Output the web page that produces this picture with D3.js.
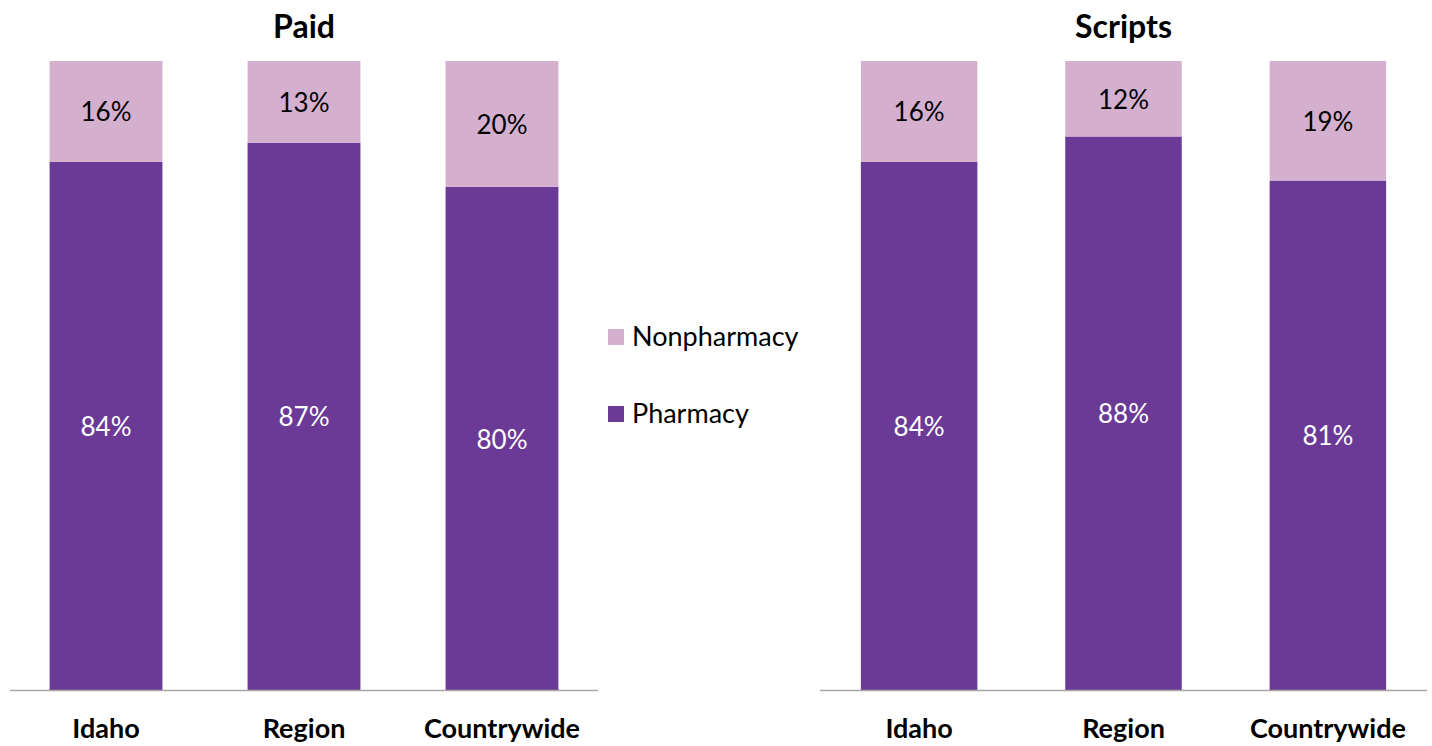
<!DOCTYPE html>
<html>
<head>
<meta charset="utf-8">
<script src="https://cdn.jsdelivr.net/npm/d3@7"></script>
<style>
  body { margin: 0; background: #fff; }
  svg { display: block; font-family: Lato, "Open Sans", sans-serif; }
</style>
</head>
<body>
<svg id="chart"></svg>
<script>
const WIDTH = 1432;
const HEIGHT = 746;

const categories = ['Idaho', 'Region', 'Countrywide'];
const seriesNames = ['Pharmacy', 'Nonpharmacy'];
const paidPharmacy = [84, 87, 80];
const paidNonpharmacy = [16, 13, 20];
const scriptsPharmacy = [84, 88, 81];
const scriptsNonpharmacy = [16, 12, 19];

const COLORS = { Pharmacy: '#6B3A96', Nonpharmacy: '#D4AFCE' };

const svg = d3.select('#chart')
    .attr('width', WIDTH)
    .attr('height', HEIGHT);

const panels = [
    { title: 'Paid', pharmacy: paidPharmacy, nonpharmacy: paidNonpharmacy, x0: 10, x1: 598 },
    { title: 'Scripts', pharmacy: scriptsPharmacy, nonpharmacy: scriptsNonpharmacy, x0: 820, x1: 1427 },
];

const y = d3.scaleLinear().domain([0, 100]).range([690, 61]);

panels.forEach(p => drawPanel(p));
drawLegend();

function drawPanel(panel) {
    const g = svg.append('g');

    const x = d3.scaleBand()
        .domain(categories)
        .range([panel.x0, panel.x1])
        .paddingInner(0.43)
        .paddingOuter(0.2);

    const rows = categories.map((c, i) => ({
        category: c,
        Pharmacy: panel.pharmacy[i],
        Nonpharmacy: panel.nonpharmacy[i],
    }));

    const stacked = d3.stack().keys(seriesNames)(rows);

    const layers = g.selectAll('.layer')
        .data(stacked)
        .join('g')
        .attr('class', 'layer')
        .attr('fill', d => COLORS[d.key]);

    layers.selectAll('rect')
        .data(d => d)
        .join('rect')
        .attr('x', d => x(d.data.category))
        .attr('width', x.bandwidth())
        .attr('y', d => y(d[1]))
        .attr('height', d => y(d[0]) - y(d[1]));

    layers.selectAll('text')
        .data(d => d.map(v => Object.assign({ key: d.key }, v)))
        .join('text')
        .attr('x', d => x(d.data.category) + x.bandwidth() / 2)
        .attr('y', d => (y(d[0]) + y(d[1])) / 2 + 1)
        .attr('dy', '0.35em')
        .attr('text-anchor', 'middle')
        .attr('font-size', 26)
        .attr('fill', d => d.key === 'Pharmacy' ? '#fff' : '#000')
        .text(d => `${d[1] - d[0]}%`);

    // baseline
    g.append('line')
        .attr('x1', panel.x0)
        .attr('x2', panel.x1)
        .attr('y1', y(0) + 0.5)
        .attr('y2', y(0) + 0.5)
        .attr('stroke', '#A6A6A6')
        .attr('stroke-width', 1.5);

    const axis = d3.axisBottom(x).tickSize(0).tickPadding(0);
    const ax = g.append('g')
        .attr('transform', `translate(0,${y(0)})`)
        .call(axis);
    ax.select('.domain').remove();
    ax.selectAll('text')
        .attr('y', 39)
        .attr('dy', '0.35em')
        .attr('font-size', 27)
        .attr('font-weight', 'bold')
        .attr('font-family', 'Lato, "Open Sans", sans-serif')
        .attr('fill', '#000');

    g.append('text')
        .attr('x', (panel.x0 + panel.x1) / 2)
        .attr('y', 27)
        .attr('dy', '0.35em')
        .attr('text-anchor', 'middle')
        .attr('font-size', 32)
        .attr('font-weight', 'bold')
        .text(panel.title);
}

function drawLegend() {
    const legendItems = ['Nonpharmacy', 'Pharmacy'];
    const ly = d3.scalePoint().domain(legendItems).range([337, 414]);

    const items = svg.append('g')
        .selectAll('g')
        .data(legendItems)
        .join('g')
        .attr('transform', d => `translate(608,${ly(d)})`);

    items.append('rect')
        .attr('x', 0)
        .attr('y', -8)
        .attr('width', 16)
        .attr('height', 16)
        .attr('fill', d => COLORS[d]);

    items.append('text')
        .attr('x', 24)
        .attr('y', 0)
        .attr('dy', '0.35em')
        .attr('font-size', 27)
        .attr('fill', '#000')
        .text(d => d);
}
</script>
</body>
</html>
